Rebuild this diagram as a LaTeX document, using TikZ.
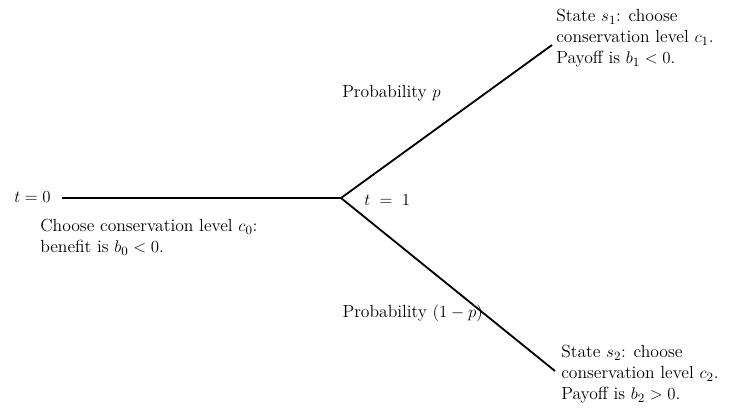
\documentclass[tikz,border=0pt]{standalone}
\usepackage{amsmath}
\usetikzlibrary{positioning}
\tikzset{
  lbl/.style   ={inner sep=0pt, font=\fontsize{12.5}{15}\selectfont},
  txtblk/.style={inner sep=0pt, align=left,
                 font=\fontsize{12.5}{15}\selectfont},
  stem/.style  ={line width=1pt},
  branch/.style={line width=1.3pt},
}

\begin{document}
\begin{tikzpicture}[x=0.025cm, y=-0.025cm]
  \useasboundingbox (0,0) rectangle (747,416);
  % decision at t = 0
  \coordinate (start) at (62,198);
  \coordinate (fork) at (341,198);
  \node[lbl, anchor=east] (t0) at (51,197) {$t = 0$};
  \draw[stem] (start) -- (fork);
  \node[txtblk, anchor=north west] (c0) at (40,219)
    {Choose conservation level $c_0$:\\ benefit is $b_0 < 0$.};
  \node[lbl, anchor=west] (t1) at (364,200) {$t \;=\; 1$};
  % the two states
  \coordinate (up) at (552,45);
  \coordinate (down) at (555,371);
  \draw[branch] (fork) -- (up);
  \draw[branch] (fork) -- (down);
  \node[lbl, anchor=west] (pr1) at (342,93) {Probability $p$};
  \node[lbl, anchor=east] (pr2) at (483,313) {Probability $(1 - p)$};
  \node[txtblk, anchor=north west] (s1) at (556,9)
    {State $s_1$: choose\\ conservation level $c_1$.\\ Payoff is $b_1 < 0$.};
  \node[txtblk, anchor=north west] (s2) at (561,345)
    {State $s_2$: choose\\ conservation level $c_2$.\\ Payoff is $b_2 > 0$.};
\end{tikzpicture}
\end{document}
